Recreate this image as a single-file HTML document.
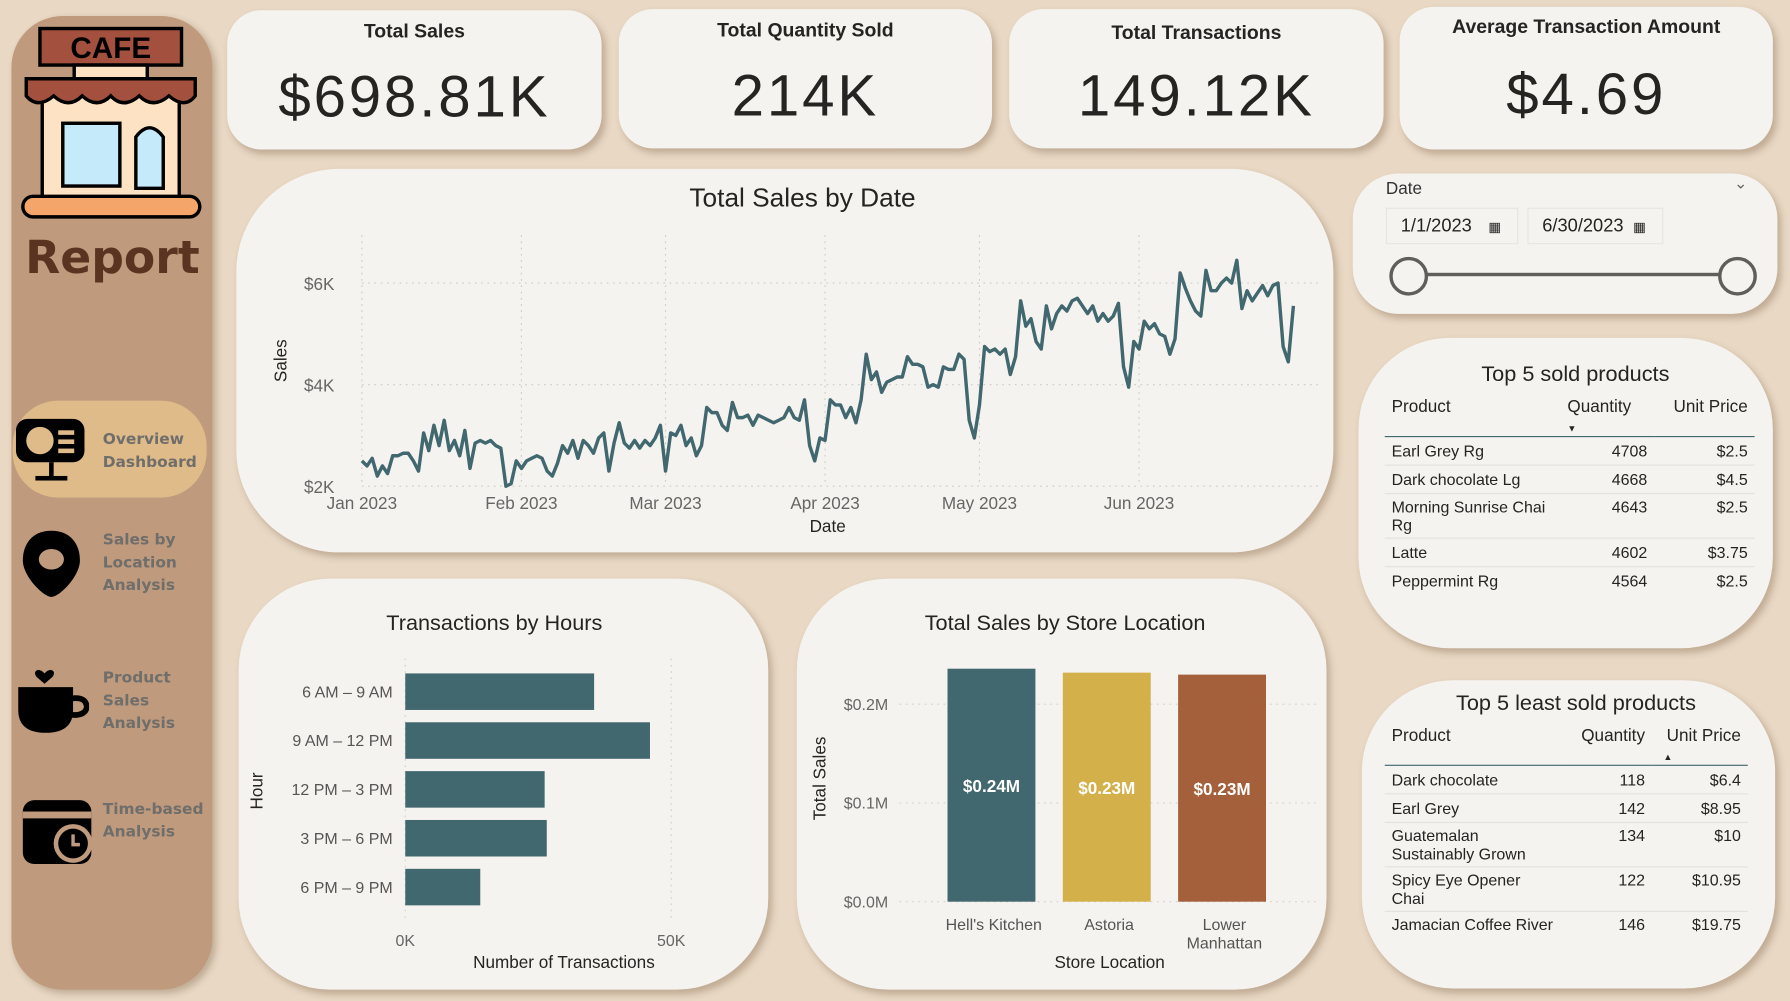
<!DOCTYPE html>
<html><head><meta charset="utf-8">
<style>
html,body{margin:0;padding:0;width:1790px;height:1001px;overflow:hidden;background:#e8d8c4;}
#stage{position:absolute;left:0;top:0;width:1568px;height:877px;transform:scale(1.14158,1.14139);transform-origin:0 0;font-family:"Liberation Sans",sans-serif;color:#252423;}
.card{position:absolute;background:#f5f3ef;box-shadow:3px 4px 6px rgba(120,90,60,0.35);}
.kpi{border-radius:30px;text-align:center;}
.kpi .t{font-weight:bold;font-size:17px;margin-top:9px;}
.kpi .v{font-size:51px;margin-top:17px;letter-spacing:2.5px;}
.abs{position:absolute;}
.nav{position:absolute;left:90px;font-family:"DejaVu Sans",sans-serif;font-weight:bold;font-size:13.5px;line-height:20px;color:#6f6e6a;}
table{border-collapse:collapse;font-size:14px;table-layout:fixed;}
td,th{padding:0 6px;}
</style></head><body>
<div id="stage">

<div class="abs" style="left:10px;top:14px;width:176px;height:853px;background:#bf9a7d;border-radius:45px;box-shadow:3px 3px 6px rgba(100,70,40,0.3)"></div>
<svg class="abs" style="left:15px;top:20px" width="165" height="180" viewBox="0 0 165 180">
 <rect x="20" y="5" width="124" height="32" fill="#a3503e" stroke="#000" stroke-width="3"/>
 <text x="82" y="31" text-anchor="middle" font-family="Liberation Sans" font-weight="bold" font-size="26">CAFE</text>
 <rect x="50" y="37" width="64" height="12" fill="#fde3c3" stroke="#000" stroke-width="3"/>
 <rect x="22" y="60" width="120" height="95" fill="#fde3c3" stroke="#000" stroke-width="3"/>
 <path d="M8 49 H156 V64 Q147 76 133 64 Q119 76 107 64 Q93 76 82 64 Q70 76 57 64 Q45 76 32 64 Q18 76 8 64 Z" fill="#a3503e" stroke="#000" stroke-width="3"/>
 <rect x="40" y="88" width="50" height="55" fill="#c5eaf9" stroke="#000" stroke-width="3"/>
 <path d="M104 145 V100 Q116 84 128 100 V145 Z" fill="#c5eaf9" stroke="#000" stroke-width="3"/>
 <rect x="5" y="152" width="155" height="18" rx="9" fill="#f4a66a" stroke="#000" stroke-width="3"/>
</svg>
<div class="abs" style="left:22px;top:203px;font-family:'DejaVu Sans',sans-serif;font-weight:bold;font-size:40px;color:#5a3420">Report</div>

<div class="abs" style="left:11px;top:351px;width:170px;height:85px;background:#dfbb8a;border-radius:40px"></div>
<svg class="abs" style="left:13px;top:365px" width="62" height="58"><rect x="1" y="2" width="60" height="38" rx="10" fill="#000"/><circle cx="22" cy="21" r="12" fill="#dfbb8a"/><rect x="38" y="12" width="14" height="4" fill="#dfbb8a"/><rect x="38" y="20" width="14" height="4" fill="#dfbb8a"/><rect x="38" y="28" width="14" height="4" fill="#dfbb8a"/><rect x="30" y="40" width="4" height="14" fill="#000"/><rect x="18" y="52" width="28" height="4" fill="#000"/></svg>
<div class="nav" style="top:375px">Overview<br>Dashboard</div>
<svg class="abs" style="left:18px;top:463px" width="54" height="62"><path d="M27 2 C10 2 2 14 2 28 C2 42 20 60 27 60 C34 60 52 42 52 28 C52 14 44 2 27 2Z" fill="#000"/><ellipse cx="27" cy="27" rx="11" ry="9" fill="#bf9a7d"/></svg>
<div class="nav" style="top:463px">Sales by<br>Location<br>Analysis</div>
<svg class="abs" style="left:14px;top:582px" width="64" height="64"><path d="M25 8 C20 2 14 6 18 11 L25 17 L32 11 C36 6 30 2 25 8Z" fill="#000"/><path d="M2 20 H50 V40 Q50 60 26 60 Q2 60 2 40Z" fill="#000"/><path d="M48 30 Q62 28 62 38 Q60 46 46 44" fill="none" stroke="#000" stroke-width="5"/></svg>
<div class="nav" style="top:584px">Product<br>Sales<br>Analysis</div>
<svg class="abs" style="left:18px;top:695px" width="64" height="64"><rect x="2" y="6" width="60" height="56" rx="10" fill="#000"/><rect x="2" y="16" width="60" height="6" fill="#bf9a7d"/><circle cx="46" cy="44" r="17" fill="#bf9a7d"/><circle cx="46" cy="44" r="13" fill="#000"/><path d="M46 36 V45 H52" stroke="#bf9a7d" stroke-width="3" fill="none"/></svg>
<div class="nav" style="top:699px">Time-based<br>Analysis</div>

<div class="card kpi" style="left:199px;top:9px;width:328px;height:122px"><div class="t">Total Sales</div><div class="v">$698.81K</div></div>
<div class="card kpi" style="left:542px;top:8px;width:327px;height:122px"><div class="t">Total Quantity Sold</div><div class="v">214K</div></div>
<div class="card kpi" style="left:884px;top:8px;width:328px;height:122px"><div class="t" style="margin-top:11px">Total Transactions</div><div class="v" style="margin-top:15px">149.12K</div></div>
<div class="card kpi" style="left:1226px;top:6px;width:327px;height:125px"><div class="t" style="margin-top:8px">Average Transaction Amount</div><div class="v" style="margin-top:19px">$4.69</div></div>

<div class="card" style="left:207px;top:148px;width:961px;height:336px;border-radius:90px"></div>
<svg class="abs" id="lineSvg" style="left:207px;top:148px" width="961" height="336"></svg>

<div class="card" style="left:1185px;top:152px;width:372px;height:123px;border-radius:40px">
 <div class="abs" style="left:29px;top:5px;font-size:15px;color:#333">Date</div>
 <div class="abs" style="left:334px;top:0px;font-size:14px;color:#666">&#8964;</div>
 <div class="abs" style="left:29px;top:30px;width:116px;height:32px;border:1px solid #e8e5df;font-size:16px;line-height:32px;padding-left:12px;box-sizing:border-box">1/1/2023 <span style="font-size:12px;margin-left:10px">&#9638;</span></div>
 <div class="abs" style="left:153px;top:30px;width:119px;height:32px;border:1px solid #e8e5df;font-size:16px;line-height:32px;padding-left:12px;box-sizing:border-box">6/30/2023 <span style="font-size:12px;margin-left:4px">&#9638;</span></div>
 <div class="abs" style="left:48px;top:87px;width:290px;height:3px;background:#605e5c"></div>
 <div class="abs" style="left:32px;top:73px;width:28px;height:28px;border:3px solid #605e5c;border-radius:50%;background:#f5f3ef"></div>
 <div class="abs" style="left:320px;top:73px;width:28px;height:28px;border:3px solid #605e5c;border-radius:50%;background:#f5f3ef"></div>
</div>

<div class="card" style="left:1190px;top:296px;width:363px;height:272px;border-radius:80px">
 <div class="abs" style="left:0;width:380px;text-align:center;top:22px;font-size:19px">Top 5 sold products</div>
 <table class="abs" style="left:23px;top:52px;width:324px">
  <colgroup><col style="width:154px"><col style="width:82px"><col style="width:88px"></colgroup>
  <tr style="height:32px;border-bottom:1px solid #41676f;vertical-align:top"><th style="text-align:left;font-weight:normal;font-size:15px">Product</th><th style="font-weight:normal;font-size:15px;text-align:left">Quantity<br><span style="font-size:8px">&#9660;</span></th><th style="font-weight:normal;font-size:15px;text-align:right">Unit Price</th></tr>
  <tr style="height:25px;border-bottom:1px solid #e4e1dc"><td>Earl Grey Rg</td><td style="text-align:right">4708</td><td style="text-align:right">$2.5</td></tr>
  <tr style="height:25px;border-bottom:1px solid #e4e1dc"><td>Dark chocolate Lg</td><td style="text-align:right">4668</td><td style="text-align:right">$4.5</td></tr>
  <tr style="height:39px;border-bottom:1px solid #e4e1dc;vertical-align:top"><td style="line-height:16px;padding-top:3px">Morning Sunrise Chai Rg</td><td style="text-align:right;padding-top:3px">4643</td><td style="text-align:right;padding-top:3px">$2.5</td></tr>
  <tr style="height:25px;border-bottom:1px solid #e4e1dc"><td>Latte</td><td style="text-align:right">4602</td><td style="text-align:right">$3.75</td></tr>
  <tr style="height:25px"><td>Peppermint Rg</td><td style="text-align:right">4564</td><td style="text-align:right">$2.5</td></tr>
 </table>
</div>

<div class="card" style="left:1193px;top:596px;width:362px;height:270px;border-radius:80px">
 <div class="abs" style="left:0;width:375px;text-align:center;top:10px;font-size:19px">Top 5 least sold products</div>
 <table class="abs" style="left:20px;top:40px;width:318px">
  <colgroup><col style="width:154px"><col style="width:80px"><col style="width:84px"></colgroup>
  <tr style="height:32px;border-bottom:1px solid #41676f;vertical-align:top"><th style="text-align:left;font-weight:normal;font-size:15px">Product</th><th style="font-weight:normal;font-size:15px;text-align:right">Quantity</th><th style="font-weight:normal;font-size:15px;text-align:right">Unit Price<br><span style="font-size:8px;margin-right:60px">&#9650;</span></th></tr>
  <tr style="height:25px;border-bottom:1px solid #e4e1dc"><td>Dark chocolate</td><td style="text-align:right">118</td><td style="text-align:right">$6.4</td></tr>
  <tr style="height:25px;border-bottom:1px solid #e4e1dc"><td>Earl Grey</td><td style="text-align:right">142</td><td style="text-align:right">$8.95</td></tr>
  <tr style="height:39px;border-bottom:1px solid #e4e1dc;vertical-align:top"><td style="line-height:16px;padding-top:3px">Guatemalan Sustainably Grown</td><td style="text-align:right;padding-top:3px">134</td><td style="text-align:right;padding-top:3px">$10</td></tr>
  <tr style="height:39px;border-bottom:1px solid #e4e1dc;vertical-align:top"><td style="line-height:16px;padding-top:3px">Spicy Eye Opener Chai</td><td style="text-align:right;padding-top:3px">122</td><td style="text-align:right;padding-top:3px">$10.95</td></tr>
  <tr style="height:39px;vertical-align:top"><td style="line-height:16px;padding-top:3px">Jamacian Coffee River</td><td style="text-align:right;padding-top:3px">146</td><td style="text-align:right;padding-top:3px">$19.75</td></tr>
 </table>
</div>

<div class="card" style="left:209px;top:507px;width:464px;height:360px;border-radius:80px"></div>
<svg class="abs" id="hourSvg" style="left:209px;top:507px" width="464" height="360"></svg>

<div class="card" style="left:698px;top:507px;width:464px;height:360px;border-radius:80px"></div>
<svg class="abs" id="storeSvg" style="left:698px;top:507px" width="464" height="360"></svg>
</div>

<script>
const NS="http://www.w3.org/2000/svg";
function mk(svg,tag,attrs,txt){const e=document.createElementNS(NS,tag);for(const k in attrs)e.setAttribute(k,attrs[k]);if(txt!==undefined)e.textContent=txt;svg.appendChild(e);return e;}

// ---- Line chart data ----
const monthLabels=["Jan 2023","Feb 2023","Mar 2023","Apr 2023","May 2023","Jun 2023"];
const monthStartDay=[0,31,59,90,120,151];
const yTicks=[2,4,6];
const dailySalesK=[
2.5,2.4,2.55,2.2,2.4,2.25,2.6,2.6,2.65,2.65,2.5,2.3,3.05,2.7,3.2,2.8,3.3,2.7,2.9,2.6,3.1,2.35,2.85,2.9,2.85,2.9,2.8,2.75,2.0,2.05,2.5,
2.35,2.5,2.55,2.6,2.55,2.3,2.2,2.45,2.8,2.65,2.9,2.55,2.9,2.8,2.65,2.95,3.05,2.3,2.85,3.25,2.85,2.75,2.9,2.75,2.9,2.8,2.95,3.2,
2.3,3.05,3.0,3.2,2.8,2.95,2.6,2.8,3.55,3.45,3.45,3.2,3.1,3.65,3.35,3.35,3.4,3.2,3.4,3.35,3.3,3.25,3.3,3.35,3.55,3.35,3.3,3.7,2.8,2.5,2.95,
2.9,3.7,3.6,3.6,3.35,3.55,3.25,3.7,4.6,4.1,4.25,3.85,4.05,4.1,4.15,4.15,4.55,4.4,4.4,4.35,3.95,4.0,3.95,4.35,4.3,4.3,4.6,4.5,3.3,2.95,
3.6,4.75,4.65,4.7,4.6,4.7,4.2,4.55,5.65,5.15,5.3,4.85,4.7,5.55,5.1,5.4,5.55,5.45,5.65,5.7,5.55,5.4,5.55,5.25,5.4,5.25,5.35,5.6,4.35,3.95,4.85,
4.7,5.25,5.1,5.2,5.0,4.95,4.6,4.9,6.2,5.9,5.65,5.45,5.35,6.25,5.85,5.85,6.0,6.1,6.0,6.45,5.5,5.85,5.65,5.8,5.95,5.75,5.95,6.0,4.75,4.45,5.55];

(function(){
 const s=document.getElementById('lineSvg');
 const x0=110,x1=926,yb=278,yt=100;
 const xs=d=>x0+(x1-x0)*d/(dailySalesK.length-1);
 const ys=v=>yb-(v-2)*(yb-yt)/4;
 let t=mk(s,'text',{x:496,y:33,'text-anchor':'middle','font-size':23,fill:'#252423'},'Total Sales by Date');
 
 yTicks.forEach(v=>{
  let l=mk(s,'line',{x1:x0,x2:x1+25,y1:ys(v),y2:ys(v),stroke:'#cfcac3','stroke-dasharray':'1.5 4'});
  
  let tx=mk(s,'text',{x:86,y:ys(v)+6,'text-anchor':'end','font-size':15,fill:'#666'},'$'+v+'K');
  
 });
 monthLabels.forEach((m,i)=>{
  const x=xs(monthStartDay[i]);
  let l=mk(s,'line',{x1:x,x2:x,y1:58,y2:yb,stroke:'#cfcac3','stroke-dasharray':'1.5 4'});
  
  let tx=mk(s,'text',{x:x,y:298,'text-anchor':'middle','font-size':15,fill:'#666'},m);
  
 });
 let yl=mk(s,'text',{x:0,y:0,transform:'translate(44,168) rotate(-90)','text-anchor':'middle','font-size':15,fill:'#252423'},'Sales');
 
 let xl=mk(s,'text',{x:518,y:318,'text-anchor':'middle','font-size':15,fill:'#252423'},'Date');
 
 const pts=dailySalesK.map((v,i)=>xs(i).toFixed(1)+','+ys(v).toFixed(1)).join(' ');
 let p=mk(s,'polyline',{points:pts,fill:'none',stroke:'#41676f','stroke-width':3,'stroke-linejoin':'round'});
 
})();

// ---- Transactions by hours ----
const hourCats=["6 AM – 9 AM","9 AM – 12 PM","12 PM – 3 PM","3 PM – 6 PM","6 PM – 9 PM"];
const hourTransK=[35.5,46,26.2,26.6,14.1];
const hourTicks=[0,50];
(function(){
 const s=document.getElementById('hourSvg');
 const x0=146,x1=379,top0=83,step=42.8,bh=32;
 const xs=v=>x0+(x1-x0)*v/50;
 let t=mk(s,'text',{x:224,y:45,'text-anchor':'middle','font-size':19,fill:'#252423'},'Transactions by Hours');
 
 hourTicks.forEach(v=>{
  let l=mk(s,'line',{x1:xs(v),x2:xs(v),y1:70,y2:300,stroke:'#d6d1ca','stroke-dasharray':'1.5 4'});
  
  let tx=mk(s,'text',{x:xs(v),y:322,'text-anchor':'middle','font-size':14,fill:'#666'},v+'K');
  
 });
 hourCats.forEach((c,i)=>{
  const y=top0+i*step;
  let r=mk(s,'rect',{x:x0,y:y,width:xs(hourTransK[i])-x0,height:bh,fill:'#41676f'});
  
  let tx=mk(s,'text',{x:135,y:y+21,'text-anchor':'end','font-size':14,fill:'#555'},c);
  
 });
 let yl=mk(s,'text',{x:0,y:0,transform:'translate(21,186) rotate(-90)','text-anchor':'middle','font-size':15,fill:'#252423'},'Hour');
 
 let xl=mk(s,'text',{x:285,y:341,'text-anchor':'middle','font-size':15,fill:'#252423'},'Number of Transactions');
 
})();

// ---- Sales by store ----
const storeCats=[["Hell's Kitchen"],["Astoria"],["Lower","Manhattan"]];
const storeSalesM=[0.236,0.232,0.230];
const storeLabels=["$0.24M","$0.23M","$0.23M"];
const storeTicks=[0,0.1,0.2];
const storeColors=['#41676f','#d4b04a','#a4603a'];
(function(){
 const s=document.getElementById('storeSvg');
 const yb=283,x0=132,bw=77,step=101;
 const ys=v=>yb-v*865;
 let t=mk(s,'text',{x:235,y:45,'text-anchor':'middle','font-size':19,fill:'#252423'},'Total Sales by Store Location');
 
 storeTicks.forEach(v=>{
  let l=mk(s,'line',{x1:90,x2:455,y1:ys(v),y2:ys(v),stroke:'#d6d1ca','stroke-dasharray':'1.5 4'});
  
  let tx=mk(s,'text',{x:80,y:ys(v)+5,'text-anchor':'end','font-size':14,fill:'#666'},'$'+v.toFixed(1)+'M');
  
 });
 storeSalesM.forEach((v,i)=>{
  const x=x0+i*step;
  let r=mk(s,'rect',{x:x,y:ys(v),width:bw,height:yb-ys(v),fill:storeColors[i]});
  
  let lb=mk(s,'text',{x:x+bw/2,y:ys(v)+(yb-ys(v))/2+6,'text-anchor':'middle','font-size':15,'font-weight':'bold',fill:'#fff'},storeLabels[i]);
  
  storeCats[i].forEach((ln,j)=>{
   let tx=mk(s,'text',{x:x+bw/2+2,y:308+j*16,'text-anchor':'middle','font-size':14,fill:'#555'},ln);
   
  });
 });
 let yl=mk(s,'text',{x:0,y:0,transform:'translate(25,175) rotate(-90)','text-anchor':'middle','font-size':15,fill:'#252423'},'Total Sales');
 
 let xl=mk(s,'text',{x:274,y:341,'text-anchor':'middle','font-size':15,fill:'#252423'},'Store Location');
 
})();
</script>
</body></html>
